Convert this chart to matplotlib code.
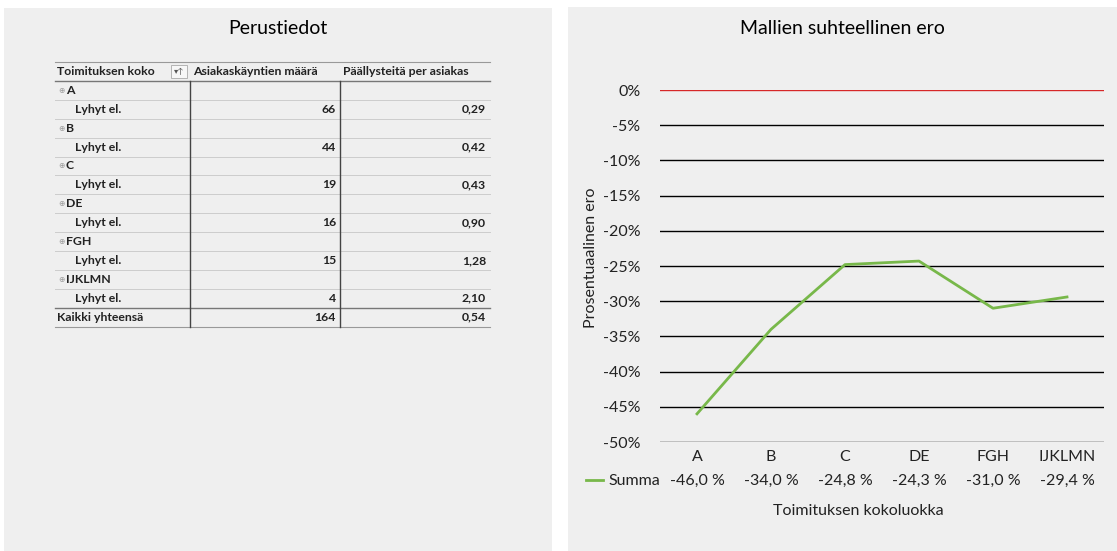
import matplotlib.pyplot as plt
import matplotlib.ticker as mticker
from matplotlib.patches import Rectangle
from matplotlib.lines import Line2D

plt.rcParams['font.family'] = ['Lato', 'DejaVu Sans']

# taulukon tiedot
luokat = ["A", "B", "C", "DE", "FGH", "IJKLMN"]
kaynnit = [66, 44, 19, 16, 15, 4]
paallysteet = ["0,29", "0,42", "0,43", "0,90", "1,28", "2,10"]
yht_kaynnit = 164
yht_paallysteet = "0,54"
otsikot = ["Toimituksen koko", "Asiakaskäyntien määrä", "Päällysteitä per asiakas"]

# kuvaajan tiedot (%)
ero = [-46.0, -34.0, -24.8, -24.3, -31.0, -29.4]
yticks = [0, -5, -10, -15, -20, -25, -30, -35, -40, -45, -50]

W, H = 1117, 551
fig = plt.figure(figsize=(W / 100, H / 100), dpi=100, facecolor="white")

# apufunktiot pikseleistä kuvan koordinaatteihin
def fx(x):
    return x / W

def fy(y):
    return 1 - y / H

def viiva(x0, x1, y0, y1, vari, lw):
    fig.add_artist(Line2D([fx(x0), fx(x1)], [fy(y0), fy(y1)], color=vari, lw=lw,
                          transform=fig.transFigure))

# harmaat taustapaneelit
fig.add_artist(Rectangle((fx(4), fy(551)), fx(548), 543 / H, transform=fig.transFigure,
                         facecolor="#efefef", edgecolor="none", zorder=-5))
fig.add_artist(Rectangle((fx(568), fy(551)), fx(549), 544 / H, transform=fig.transFigure,
                         facecolor="#efefef", edgecolor="none", zorder=-5))

fig.text(fx(278), fy(28), "Perustiedot", ha="center", va="center", fontsize=14)
fig.text(fx(842), fy(28), "Mallien suhteellinen ero", ha="center", va="center", fontsize=14)

# pivot-taulukko
x0, x1, x2, x3 = 55, 190, 340, 490
rivi = 18.9
ytop = 62
tx = dict(fontsize=8.8, fontweight="bold", color="#222222", va="center")
viiva(x0, x3, ytop, ytop, "#999999", 0.8)
fig.text(fx(x0 + 2), fy(ytop + rivi / 2), otsikot[0], ha="left", **tx)
fig.text(fx(x1 + 3), fy(ytop + rivi / 2), otsikot[1], ha="left", **tx)
fig.text(fx(x2 + 3), fy(ytop + rivi / 2), otsikot[2], ha="left", **tx)
# suodatinpainike
fig.add_artist(Rectangle((fx(171), fy(ytop + 16)), fx(16), 13 / H, transform=fig.transFigure,
                         facecolor="#f7f7f7", edgecolor="#aaaaaa", lw=0.6))
fig.text(fx(179), fy(ytop + 10), "▾↑", ha="center", va="center", fontsize=6, color="#555555")
viiva(x0, x3, ytop + rivi, ytop + rivi, "#777777", 1.0)

y = ytop + rivi
for luokka, k, p in zip(luokat, kaynnit, paallysteet):
    fig.text(fx(x0 + 3), fy(y + rivi / 2), "⊕", ha="left", fontsize=5.5, color="#999999", va="center")
    fig.text(fx(x0 + 11), fy(y + rivi / 2), luokka, ha="left", **tx)
    viiva(x0, x3, y + rivi, y + rivi, "#cccccc", 0.7)
    y += rivi
    fig.text(fx(x0 + 20), fy(y + rivi / 2), "Lyhyt el.", ha="left", **tx)
    fig.text(fx(x2 - 4), fy(y + rivi / 2), str(k), ha="right", **tx)
    fig.text(fx(x3 - 4), fy(y + rivi / 2), p, ha="right", **tx)
    y += rivi
    viiva(x0, x3, y, y, "#cccccc", 0.7)
viiva(x0, x3, y, y, "#777777", 1.0)
fig.text(fx(x0 + 2), fy(y + rivi / 2), "Kaikki yhteensä", ha="left", **tx)
fig.text(fx(x2 - 4), fy(y + rivi / 2), str(yht_kaynnit), ha="right", **tx)
fig.text(fx(x3 - 4), fy(y + rivi / 2), yht_paallysteet, ha="right", **tx)
y += rivi
viiva(x0, x3, y, y, "#999999", 0.8)
viiva(x1, x1, ytop + rivi, y, "#444444", 1.0)
viiva(x2, x2, ytop + rivi, y, "#444444", 1.0)

# viivakuvaaja
fs = 11.5
ax = fig.add_axes([fx(660), fy(442), (1104 - 660) / W, (442 - 90) / H])
ax.set_facecolor("none")
for s in ax.spines.values():
    s.set_visible(False)
for t in yticks:
    ax.axhline(t, color="#d62728" if t == 0 else "black", lw=1.0, zorder=1)
xs = range(len(luokat))
ax.plot(xs, ero, color="#78b84a", lw=2, zorder=3)
ax.set_xlim(-0.5, len(luokat) - 0.5)
ax.set_ylim(-50, 0)
ax.set_yticks(yticks)
ax.yaxis.set_major_formatter(mticker.FuncFormatter(lambda v, p: f"{v:.0f}%"))
ax.tick_params(axis="y", length=0, pad=14, labelsize=fs, labelcolor="#222222")
ax.set_xticks([])

# tietotaulukko akselin alla
for i, (luokka, v) in enumerate(zip(luokat, ero)):
    ax.text(i, -52.2, luokka, ha="center", va="center", fontsize=fs, color="#222222", clip_on=False)
    ax.text(i, -55.5, f"{v:.1f} %".replace(".", ","), ha="center", va="center",
            fontsize=fs, color="#222222", clip_on=False)
ax.text(-0.5, -55.5, "Summa", ha="right", va="center", fontsize=fs, color="#222222")
fig.add_artist(Line2D([fx(586), fx(603)], [fy(480), fy(480)], color="#78b84a", lw=2,
                      transform=fig.transFigure))
fig.text(fx(858), fy(511), "Toimituksen kokoluokka", ha="center", va="center", fontsize=fs,
         color="#222222")
fig.text(fx(591), fy(258), "Prosentuaalinen ero", ha="center", va="center", rotation=90,
         fontsize=fs, color="#222222")

fig.savefig("out.png", dpi=100)
